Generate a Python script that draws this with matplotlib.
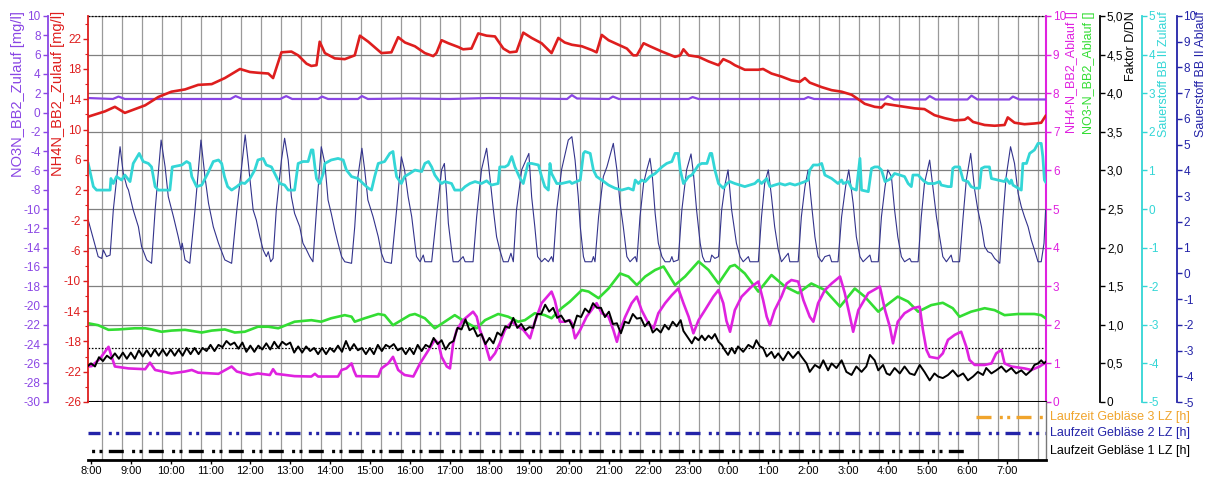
import numpy as np
import matplotlib
matplotlib.use("Agg")
import matplotlib.pyplot as plt
from matplotlib.ticker import MultipleLocator, FixedLocator, FuncFormatter, NullFormatter

plt.rcParams['font.family'] = ['Liberation Sans', 'DejaVu Sans']
plt.rcParams['lines.scale_dashes'] = False

# ---------------- data (time = hours after 8:00) ----------------
hour_labels = ['8:00', '9:00', '10:00', '11:00', '12:00', '13:00', '14:00', '15:00',
               '16:00', '17:00', '18:00', '19:00', '20:00', '21:00', '22:00', '23:00',
               '0:00', '1:00', '2:00', '3:00', '4:00', '5:00', '6:00', '7:00']

# NH4N_BB2_Zulauf [mg/l]
red_t = [-0.07, 0.35, 0.60, 0.85, 1.36, 1.69, 2.02, 2.36, 2.69, 3.03,
         3.36, 3.74, 3.99, 4.19, 4.45, 4.57, 4.78, 5.03, 5.20, 5.41,
         5.53, 5.66, 5.74, 5.87, 6.12, 6.37, 6.62, 6.75, 6.96, 7.29,
         7.54, 7.71, 7.88, 8.13, 8.38, 8.59, 8.67, 8.80, 8.97, 9.22,
         9.34, 9.55, 9.72, 9.93, 10.14, 10.35, 10.51, 10.68, 10.85, 11.06,
         11.31, 11.56, 11.73, 11.89, 12.07, 12.32, 12.57, 12.69, 12.82, 12.99,
         13.24, 13.45, 13.61, 13.70, 13.87, 14.03, 14.33, 14.66, 14.79, 14.87,
         15.00, 15.25, 15.50, 15.75, 15.87, 16.04, 16.16, 16.41, 16.75, 16.87,
         17.08, 17.33, 17.58, 17.79, 17.92, 18.04, 18.34, 18.59, 18.84, 19.09,
         19.26, 19.42, 19.67, 19.84, 19.93, 20.17, 20.42, 20.67, 20.92, 21.17,
         21.43, 21.68, 21.93, 22.01, 22.14, 22.43, 22.68, 22.93, 23.01, 23.18,
         23.43, 23.68, 23.85, 23.96]
red_v = [11.7, 12.4, 13.0, 12.2, 13.2, 14.3, 15.0, 15.3, 15.9, 16.0,
         16.8, 18.0, 17.6, 17.5, 17.4, 16.8, 20.2, 20.3, 19.8, 18.7,
         18.4, 18.5, 21.6, 20.1, 19.4, 19.3, 19.8, 22.4, 21.6, 20.1,
         20.2, 22.2, 21.5, 21.0, 20.1, 19.7, 20.1, 21.8, 21.4, 20.9,
         20.6, 20.7, 22.7, 22.4, 22.3, 20.7, 20.2, 20.3, 22.8, 22.1,
         21.4, 20.1, 22.1, 21.5, 21.2, 21.0, 20.5, 20.2, 22.5, 21.8,
         21.2, 20.7, 19.8, 19.8, 21.4, 21.0, 20.3, 19.6, 19.8, 20.6,
         19.8, 19.6, 19.0, 18.5, 19.3, 18.9, 18.5, 17.9, 17.9, 18.0,
         17.4, 17.0, 16.5, 16.3, 16.8, 16.2, 15.6, 15.2, 15.0, 14.6,
         14.0, 13.4, 13.0, 12.9, 13.4, 13.2, 13.0, 12.8, 12.7, 11.9,
         11.5, 11.2, 11.3, 11.6, 11.0, 10.6, 10.5, 10.6, 11.6, 10.9,
         10.7, 10.8, 10.9, 11.8]

# NO3N_BB2_Zulauf [mg/l]
purple_t = [-0.07, 0.55, 0.69, 0.85, 2.0, 3.5, 3.63, 3.8, 4.75, 4.9,
            5.05, 5.7, 5.8, 5.95, 6.7, 6.8, 6.95, 8.0, 9.0, 10.0,
            11.0, 11.95, 12.07, 12.2, 13.0, 13.1, 13.25, 15.0, 15.1, 15.25,
            17.9, 18.0, 18.15, 19.9, 20.0, 20.15, 20.95, 21.05, 21.2, 22.0,
            22.1, 22.25, 23.05, 23.14, 23.3, 23.96]
purple_v = [1.5, 1.4, 1.65, 1.4, 1.4, 1.4, 1.7, 1.4, 1.4, 1.7,
            1.4, 1.4, 1.65, 1.4, 1.4, 1.7, 1.4, 1.45, 1.4, 1.5,
            1.45, 1.4, 1.8, 1.45, 1.4, 1.65, 1.4, 1.4, 1.6, 1.4,
            1.4, 1.6, 1.4, 1.35, 1.7, 1.35, 1.35, 1.7, 1.35, 1.35,
            1.75, 1.35, 1.35, 1.65, 1.35, 1.35]

# Sauerstoff BB II Zulauf
cyan_t = [-0.07, 0.06, 0.14, 0.48, 0.50, 0.56, 0.64, 0.77, 0.85, 0.98,
          1.06, 1.21, 1.31, 1.44, 1.52, 1.61, 1.69, 1.98, 2.04, 2.28,
          2.40, 2.48, 2.53, 2.65, 2.78, 2.93, 3.07, 3.20, 3.28, 3.35,
          3.43, 3.53, 3.66, 3.78,
          3.86, 3.99, 4.11, 4.19, 4.32, 4.40, 4.53, 4.65, 4.74, 4.86,
          4.95, 5.11, 5.20, 5.32, 5.45, 5.53, 5.57, 5.62, 5.66, 5.74,
          5.83, 5.87, 6.03, 6.20, 6.33, 6.41, 6.54, 6.70, 6.83, 6.96,
          7.04, 7.12, 7.21, 7.37, 7.50, 7.58, 7.62, 7.67, 7.79, 7.87, 8.00,
          8.13, 8.30, 8.38, 8.47, 8.55, 8.63, 8.72, 8.80, 8.88, 9.05,
          9.13, 9.30, 9.39, 9.51, 9.64, 9.80, 9.93, 10.05, 10.22, 10.26,
          10.39, 10.47, 10.56, 10.64, 10.77, 10.85, 10.97, 11.06, 11.23, 11.31,
          11.39, 11.48, 11.52, 11.56, 11.69, 11.81, 12.02,
          12.07, 12.28, 12.36, 12.40, 12.53, 12.61, 12.69, 12.82, 12.99, 13.15,
          13.32, 13.49, 13.61, 13.66, 13.74, 13.82, 13.91, 14.03, 14.16, 14.33,
          14.45, 14.58, 14.66, 14.74, 14.79, 14.87, 15.00, 15.08, 15.25, 15.33,
          15.46, 15.54, 15.58, 15.66, 15.75, 15.87, 15.96, 16.04,
          16.16, 16.41, 16.66, 16.75, 16.83, 16.96, 17.04, 17.16, 17.29, 17.42,
          17.54, 17.67, 17.79, 17.92, 18.00, 18.04, 18.13, 18.25, 18.34, 18.42,
          18.59, 18.75, 18.84, 18.88, 19.01, 19.09, 19.21, 19.30, 19.34, 19.51,
          19.59, 19.67, 19.76, 19.84, 19.93,
          20.05, 20.17, 20.30, 20.42, 20.51, 20.59, 20.63, 20.76, 20.84, 20.92,
          21.01, 21.17, 21.30, 21.34, 21.51, 21.59, 21.63, 21.68, 21.80, 21.89,
          22.01, 22.09, 22.18, 22.30, 22.35, 22.43, 22.55, 22.60, 22.76, 22.93,
          22.97, 23.06, 23.10, 23.14, 23.27, 23.35, 23.39, 23.48, 23.56, 23.68,
          23.77, 23.85, 23.89, 23.93, 23.96]
cyan_v = [1.18, 0.58, 0.49, 0.49, 0.79, 0.66, 0.84, 0.75, 0.88, 0.71,
          1.18, 1.44, 1.23, 1.18, 1.09, 0.58, 0.49, 0.49, 1.09, 1.14,
          1.23, 1.18, 0.84, 0.58, 0.62, 0.92, 1.23, 1.27, 1.18, 0.84,
          0.58, 0.49, 0.58, 0.68,
          0.66, 0.79, 1.01, 1.27, 1.31, 1.14, 1.09, 0.84, 0.66, 0.62,
          0.49, 0.49, 1.18, 1.23, 1.23, 1.53, 1.53, 1.09, 0.79, 0.66,
          0.92, 1.18, 1.27, 1.31, 1.27, 1.01, 0.84, 0.79, 0.66, 0.54,
          0.49, 0.84, 1.18, 1.23, 1.44, 1.49, 1.18, 0.84, 0.66, 0.84, 0.92,
          1.01, 0.97, 1.18, 1.23, 1.09, 0.88, 0.75, 0.66, 0.71, 0.66,
          0.49, 0.49, 0.58, 0.66, 0.71, 0.66, 0.73, 0.62, 0.66, 1.09,
          1.09, 1.14, 1.36, 1.09, 0.79, 0.66, 1.18, 1.18, 1.14, 0.84,
          0.58, 0.49, 1.18, 0.92, 0.66, 0.66, 0.71,
          0.66, 0.75, 1.44, 1.49, 1.44, 1.01, 0.84, 0.75, 0.62, 0.54,
          0.49, 0.54, 0.49, 0.75, 0.66, 0.75, 0.71, 0.84, 0.92, 1.09,
          1.18, 1.23, 1.44, 1.44, 1.01, 0.66, 0.84, 0.88, 1.14, 1.18,
          1.18, 1.44, 1.44, 1.01, 0.66, 0.54, 0.66, 0.71,
          0.66, 0.58, 0.66, 0.75, 0.66, 0.79, 0.58, 0.62, 0.66, 0.62,
          0.66, 0.62, 0.66, 0.71, 0.75, 1.01, 1.14, 1.14, 1.18, 0.88,
          0.79, 0.66, 0.75, 0.66, 0.71, 0.54, 0.49, 1.31, 0.49, 0.45,
          1.05, 1.09, 1.09, 1.01, 0.71,
          0.77, 0.92, 0.88, 0.84, 0.66, 0.58, 0.88, 0.88, 0.79, 0.71,
          0.66, 0.66, 0.71, 0.62, 0.58, 0.58, 1.05, 1.09, 1.09, 0.75,
          0.71, 0.58, 0.54, 0.54, 1.05, 1.09, 1.09, 0.79, 0.75, 0.71,
          0.79, 0.66, 0.75, 0.62, 0.54, 0.49, 1.18, 1.18, 1.44, 1.53,
          1.70, 1.70, 1.36, 0.75, 0.70]

# Sauerstoff BB II Ablauf
navy_t = [-0.07, 0.18, 0.27, 0.31, 0.39, 0.48, 0.56, 0.73, 0.81, 0.90,
          0.94, 1.06, 1.19, 1.27, 1.40, 1.52, 1.61, 1.76, 1.86, 1.94,
          2.07, 2.19, 2.26, 2.29, 2.36, 2.48, 2.61, 2.76, 2.86, 2.95,
          3.07, 3.20, 3.36, 3.53, 3.66, 3.87,
          3.94, 4.07, 4.15, 4.24, 4.32, 4.40, 4.45, 4.51, 4.57, 4.65,
          4.78, 4.86, 4.95, 5.03, 5.11, 5.24, 5.32, 5.41, 5.49, 5.57,
          5.66, 5.78, 5.87, 5.95, 6.03, 6.12, 6.20, 6.29, 6.37, 6.54,
          6.62, 6.70, 6.80, 6.87, 6.95, 7.08, 7.21, 7.29, 7.37, 7.54,
          7.67, 7.79, 7.87,
          7.96, 8.05, 8.13, 8.17, 8.26, 8.34, 8.38, 8.55, 8.67, 8.80,
          8.87, 8.93, 8.97, 9.05, 9.09, 9.22, 9.34, 9.39, 9.59, 9.68,
          9.80, 9.93, 10.01, 10.10, 10.18, 10.26, 10.35, 10.47, 10.54, 10.60,
          10.68, 10.81, 10.99, 11.06, 11.14, 11.21, 11.31, 11.39, 11.48, 11.56,
          11.60, 11.69, 11.81, 11.98,
          12.07, 12.15, 12.23, 12.28, 12.36, 12.40, 12.57, 12.61, 12.65, 12.74,
          12.86, 12.95, 13.11, 13.20, 13.28, 13.36, 13.45, 13.53, 13.61, 13.66,
          13.70, 13.78, 13.87, 13.95, 14.03, 14.09, 14.16, 14.24, 14.33, 14.41,
          14.53, 14.58, 14.62, 14.74, 14.83, 14.95, 15.06, 15.12, 15.20, 15.29,
          15.35, 15.41, 15.54, 15.58, 15.66, 15.75, 15.83, 15.92,
          15.99, 16.08, 16.20, 16.29, 16.37, 16.50, 16.54, 16.75, 16.83, 16.91,
          17.00, 17.08, 17.16, 17.25, 17.33, 17.50, 17.54, 17.75, 17.83, 17.92,
          18.00, 18.10, 18.17, 18.25, 18.34, 18.42, 18.54, 18.59, 18.75, 18.84,
          18.94, 19.02, 19.13, 19.21, 19.30, 19.38, 19.55, 19.59, 19.76, 19.84,
          19.93,
          20.00, 20.09, 20.17, 20.25, 20.34, 20.42, 20.55, 20.59, 20.76, 20.84,
          20.92, 21.05, 21.13, 21.22, 21.30, 21.38, 21.47, 21.59, 21.63, 21.80,
          21.89, 21.97, 22.08, 22.18, 22.26, 22.35, 22.43, 22.51, 22.60, 22.68,
          22.81, 22.89, 22.97, 23.08, 23.18, 23.27, 23.35, 23.43, 23.52, 23.60,
          23.68, 23.77, 23.85, 23.92, 23.96]
navy_v = [2.07, 0.65, 0.58, 0.91, 0.65, 0.71, 2.46, 4.92, 3.89, 3.37,
          3.24, 2.46, 1.81, 1.04, 0.52, 0.39, 2.46, 5.18, 4.14, 2.98,
          2.20, 1.42, 0.91, 1.17, 0.52, 0.39, 2.46, 5.18, 3.76, 2.72,
          1.81, 1.17, 0.52, 0.39, 2.46, 5.38,
          4.40, 2.46, 2.07, 1.42, 0.91, 0.65, 0.84, 0.45, 0.58, 2.46,
          4.40, 5.25, 4.40, 2.98, 2.33, 1.81, 1.17, 0.91, 0.65, 0.45,
          2.46, 4.92, 4.27, 2.85, 2.33, 1.68, 1.17, 0.65, 0.45, 0.39,
          1.81, 3.76, 4.86, 4.02, 2.85, 2.20, 1.42, 0.78, 0.45, 0.39,
          2.46, 4.53, 4.02,
          2.98, 2.20, 1.17, 0.65, 0.45, 0.71, 0.45, 0.45, 2.20, 4.02,
          4.27, 2.98, 1.94, 0.91, 0.45, 0.45, 0.65, 0.45, 0.45, 2.20,
          4.02, 4.86, 3.76, 2.46, 1.42, 0.91, 0.45, 0.45, 0.78, 0.45,
          2.46, 4.02, 4.66, 2.98, 1.81, 0.65, 0.45, 0.58, 0.45, 0.65,
          0.45, 2.46, 4.02, 5.18,
          5.31, 4.40, 2.98, 1.81, 0.65, 0.45, 0.45, 0.65, 0.45, 2.20,
          3.76, 4.14, 5.05, 4.02, 2.72, 1.81, 0.65, 0.45, 0.58, 0.65,
          0.45, 2.20, 3.50, 4.02, 4.47, 3.76, 2.33, 1.17, 0.65, 0.45,
          0.45, 0.65, 0.45, 0.52, 2.46, 4.02, 4.64, 3.89, 2.46, 1.17,
          0.65, 0.45, 0.45, 0.71, 0.58, 0.65, 2.46, 3.50,
          4.02, 2.46, 1.17, 0.65, 0.45, 0.65, 0.45, 0.45, 2.20, 3.50,
          4.02, 2.98, 1.81, 0.91, 0.45, 0.78, 0.45, 0.45, 2.20, 3.37,
          4.02, 2.46, 1.42, 0.65, 0.45, 0.65, 0.71, 0.45, 0.45, 2.20,
          3.37, 4.02, 2.72, 1.42, 0.65, 0.45, 0.71, 0.45, 0.45, 2.20,
          3.37,
          4.02, 3.76, 2.46, 1.42, 0.65, 0.45, 0.58, 0.45, 0.45, 2.20,
          3.50, 4.40, 3.37, 2.20, 1.42, 0.65, 0.45, 0.71, 0.45, 0.45,
          2.20, 3.63, 4.66, 3.24, 2.46, 1.81, 1.04, 0.84, 0.78, 0.58,
          0.39, 2.20, 3.76, 4.92, 4.27, 3.11, 2.59, 2.20, 1.81, 1.30,
          0.91, 0.45, 0.45, 1.17, 2.46]

# NO3-N_BB2_Ablauf []
green_t = [-0.07, 0.18, 0.44, 0.69, 1.10, 1.36, 1.52, 1.77, 2.02, 2.36,
           2.78, 3.03, 3.36, 3.61, 3.86, 4.19, 4.45, 4.70, 5.11, 5.53,
           5.78, 6.03, 6.37, 6.54, 6.62, 6.87, 7.21, 7.37, 7.58, 7.79,
           8.00, 8.13, 8.38, 8.63, 8.88, 9.13, 9.39, 9.68, 9.89, 10.22,
           10.47, 10.72, 10.89, 11.14, 11.39, 11.56, 11.81, 12.02, 12.15, 12.32,
           12.49, 12.74, 12.99, 13.28, 13.49, 13.70, 13.91, 14.16, 14.37, 14.66,
           14.91, 15.25, 15.50, 15.75, 15.92, 16.04, 16.16, 16.41, 16.75, 17.08,
           17.42, 17.75, 18.08, 18.42, 18.80, 19.17, 19.42, 19.76, 19.92, 20.25,
           20.51, 20.76, 21.09, 21.38, 21.63, 21.80, 22.09, 22.43, 22.68, 22.93,
           23.27, 23.68, 23.85, 23.96]
green_v = [2.04, 1.99, 1.87, 1.88, 1.91, 1.91, 1.88, 1.82, 1.85, 1.87,
           1.80, 1.85, 1.88, 1.80, 1.82, 1.95, 1.95, 1.91, 2.08, 2.12,
           2.08, 2.17, 2.25, 2.21, 2.08, 2.17, 2.28, 2.25, 1.99, 2.12,
           2.25, 2.28, 2.17, 1.91, 2.08, 2.25, 2.08, 1.91, 2.12, 2.28,
           2.21, 2.08, 2.12, 2.30, 2.25, 2.17, 2.43, 2.60, 2.73, 2.90,
           2.86, 2.69, 2.94, 3.33, 3.25, 3.03, 3.25, 3.42, 3.51, 3.03,
           3.25, 3.64, 3.42, 3.07, 3.33, 3.51, 3.55, 3.33, 2.86, 3.29,
           2.99, 2.82, 3.07, 2.90, 2.47, 2.94, 2.73, 2.34, 2.47, 2.73,
           2.60, 2.34, 2.51, 2.57, 2.43, 2.21, 2.34, 2.43, 2.38, 2.25,
           2.28, 2.28, 2.25, 2.17]

# NH4-N_BB2_Ablauf []
mag_t = [-0.07, 0.02, 0.23, 0.44, 0.52, 0.60, 0.94, 1.36, 1.48, 1.61,
         2.02, 2.36, 2.53, 2.69, 3.20, 3.53, 3.66, 3.99, 4.19, 4.49,
         4.57, 4.65, 5.11, 5.53, 5.62, 5.70, 6.20, 6.29, 6.41, 6.54,
         6.60, 6.66, 7.21, 7.29, 7.46, 7.58, 7.71, 7.87, 8.09, 8.26,
         8.42, 8.63, 8.72, 8.80, 8.93, 9.01, 9.09, 9.18, 9.34, 9.59,
         9.68, 9.76, 9.89, 10.01, 10.14, 10.26, 10.39, 10.56, 10.72, 10.85,
         11.02, 11.14, 11.31, 11.56, 11.64, 11.77, 11.89, 12.02, 12.07, 12.15,
         12.28, 12.44, 12.69, 12.82, 12.99, 13.11, 13.20, 13.28, 13.41, 13.57,
         13.70, 13.82, 13.99, 14.12, 14.24, 14.41, 14.58, 14.74, 14.87, 15.00,
         15.12, 15.25, 15.41, 15.62, 15.75, 15.87, 15.95, 16.04, 16.16, 16.33,
         16.58, 16.75, 16.87, 16.96, 17.04, 17.16, 17.33, 17.46, 17.58, 17.75,
         17.88, 18.04, 18.13, 18.25, 18.42, 18.59, 18.80, 18.92, 19.05, 19.13,
         19.26, 19.51, 19.80, 19.93, 20.05, 20.13, 20.25, 20.42, 20.63, 20.80,
         20.88, 20.97, 21.05, 21.26, 21.38, 21.51, 21.68, 21.84, 21.97, 22.05,
         22.18, 22.43, 22.60, 22.72, 22.85, 22.93, 23.10, 23.43, 23.60, 23.81,
         23.93]
mag_v = [0.92, 0.93, 1.13, 1.43, 1.17, 0.92, 0.87, 0.85, 1.02, 0.83,
         0.74, 0.79, 0.83, 0.76, 0.73, 0.92, 0.79, 0.70, 0.74, 0.70,
         0.85, 0.73, 0.67, 0.66, 0.73, 0.66, 0.66, 0.83, 0.87, 1.00,
         0.81, 0.67, 0.66, 0.87, 1.00, 1.17, 0.83, 0.70, 0.66, 1.00,
         1.26, 1.61, 1.52, 1.17, 0.92, 0.87, 1.52, 1.87, 2.12, 2.34,
         2.21, 1.87, 1.52, 1.09, 1.26, 1.52, 1.87, 2.08, 1.95, 1.87,
         1.65, 2.08, 2.56, 2.86, 2.64, 2.08, 2.08, 2.12, 2.04, 1.65,
         1.87, 2.21, 2.56, 2.30, 2.21, 1.87, 1.56, 1.87, 2.21, 2.56,
         2.73, 2.38, 2.04, 1.91, 2.30, 2.56, 2.77, 2.94, 2.56, 2.21,
         1.78, 2.12, 2.38, 2.73, 2.90, 2.56, 2.10, 1.82, 2.38, 2.73,
         2.99, 3.12, 2.64, 2.21, 1.99, 2.38, 2.73, 3.07, 3.16, 3.12,
         2.64, 2.21, 2.08, 2.56, 2.90, 3.07, 3.25, 2.82, 2.21, 1.82,
         2.38, 2.82, 2.99, 2.38, 1.95, 1.52, 2.08, 2.30, 2.43, 2.47,
         1.87, 1.35, 1.17, 1.13, 1.26, 1.61, 1.74, 1.82, 1.43, 1.09,
         0.96, 0.96, 1.00, 1.26, 1.35, 1.00, 0.92, 0.87, 0.83, 0.92,
         1.00]

# Faktor D/DN : fast zig-zag part (every 0.1 h from 8:00) and slower part
black_fast_t = np.round(np.arange(0.0, 14.85, 0.1), 2)
black_fast_v = [0.50, 0.46, 0.58, 0.53, 0.60, 0.56, 0.63, 0.56, 0.64, 0.56,
                0.64, 0.56, 0.67, 0.59, 0.67, 0.59, 0.68, 0.60, 0.68, 0.60,
                0.68, 0.60, 0.68, 0.60, 0.70, 0.62, 0.70, 0.62, 0.70, 0.66,
                0.74, 0.66, 0.74, 0.71, 0.79, 0.74, 0.77, 0.69, 0.77, 0.65,
                0.73, 0.65, 0.73, 0.68, 0.76, 0.68, 0.78, 0.70, 0.78, 0.74,
                0.77, 0.64, 0.72, 0.64, 0.72, 0.66, 0.70, 0.62, 0.70, 0.62,
                0.70, 0.65, 0.73, 0.65, 0.79, 0.67, 0.75, 0.67, 0.70, 0.62,
                0.70, 0.62, 0.74, 0.66, 0.74, 0.71, 0.75, 0.67, 0.70, 0.62,
                0.70, 0.62, 0.74, 0.66, 0.74, 0.71, 0.83, 0.75, 0.80, 0.68,
                0.76, 0.79, 0.96, 0.94, 1.07, 0.93, 0.96, 0.85, 0.88, 0.75,
                0.83, 0.76, 0.90, 0.86, 0.98, 0.96, 1.09, 0.96, 1.01, 0.93,
                0.97, 0.96, 1.14, 1.14, 1.26, 1.17, 1.22, 1.09, 1.12, 1.04,
                1.06, 0.96, 1.12, 1.10, 1.21, 1.16, 1.28, 1.22, 1.22, 1.10,
                1.17, 1.01, 1.02, 0.89, 1.04, 1.02, 1.14, 1.08, 1.09, 0.98,
                1.04, 0.90, 0.95, 0.90, 1.00, 0.94, 1.04, 0.98, 1.06]
black_slow_t = [14.87, 14.95, 15.03, 15.08, 15.16, 15.25, 15.33, 15.41, 15.50, 15.58,
                15.66, 15.75, 15.83, 15.91, 15.99, 16.08, 16.16, 16.24, 16.37, 16.50,
                16.62, 16.70, 16.79, 16.87, 16.96, 17.08, 17.16, 17.25, 17.37, 17.50,
                17.62, 17.75, 17.83, 17.96, 18.04, 18.17, 18.29, 18.38, 18.50, 18.59,
                18.71, 18.84, 18.96, 19.09, 19.21, 19.34, 19.46, 19.55, 19.67, 19.76,
                19.88, 19.97, 20.05, 20.17, 20.30, 20.42, 20.55, 20.67, 20.80, 20.92,
                21.05, 21.17, 21.26, 21.38, 21.51, 21.63, 21.76, 21.89, 22.01, 22.14,
                22.26, 22.39, 22.47, 22.60, 22.72, 22.85, 22.97, 23.10, 23.22, 23.35,
                23.47, 23.60, 23.68, 23.77, 23.85, 23.92, 23.96]
black_slow_v = [0.92, 0.86, 0.80, 0.76, 0.84, 0.80, 0.86, 0.80, 0.86, 0.82,
                0.88, 0.78, 0.74, 0.67, 0.61, 0.70, 0.63, 0.72, 0.65, 0.74,
                0.70, 0.80, 0.72, 0.70, 0.59, 0.65, 0.57, 0.63, 0.54, 0.65,
                0.57, 0.65, 0.59, 0.50, 0.39, 0.48, 0.44, 0.54, 0.41, 0.50,
                0.44, 0.54, 0.39, 0.35, 0.46, 0.39, 0.46, 0.61, 0.54, 0.41,
                0.48, 0.37, 0.35, 0.44, 0.37, 0.46, 0.37, 0.35, 0.48, 0.39,
                0.28, 0.37, 0.33, 0.31, 0.35, 0.41, 0.33, 0.37, 0.28, 0.33,
                0.39, 0.35, 0.44, 0.37, 0.41, 0.46, 0.39, 0.44, 0.37, 0.41,
                0.35, 0.41, 0.48, 0.50, 0.54, 0.50, 0.52]

# reference (dotted) levels on the NH4-N_BB2_Ablauf scale
limit_levels = [10.0, 1.4]

# blower running-time bars: start / end (hours after 8:00)
gebl_names = ['Laufzeit Gebläse 3 LZ [h]', 'Laufzeit Gebläse 2 LZ [h]', 'Laufzeit Gebläse 1 LZ [h]']
gebl_start = [22.22, -0.075, -0.075]
gebl_end = [23.97, 23.97, 22.10]

# ---------------- layout ----------------
W_PX, H_PX, DPI = 1213, 482, 100
fig = plt.figure(figsize=(W_PX / DPI, H_PX / DPI), dpi=DPI)
fig.patch.set_facecolor('white')


def rect(x0, y0, x1, y1):
    return [x0 / W_PX, 1 - y1 / H_PX, (x1 - x0) / W_PX, (y1 - y0) / H_PX]


def pt(px):
    return px * 72.0 / DPI


X0, X1 = -0.075, 23.97
grid_t = np.arange(0.27, 23.9, 0.5)

C_RED = '#de1e1e'
C_PURP = '#8a46e4'
C_MAG = '#df22df'
C_GREEN = '#33dd33'
C_CYAN = '#33d6d6'
C_NAVY = '#33338c'
C_BLUE = '#2323a8'
C_ORANGE = '#f0a42c'
C_GRID = '#9a9a9a'

ax = fig.add_axes(rect(88, 16, 1046, 402))
axl = fig.add_axes(rect(88, 402, 1046, 460))

ax_blue = ax.twinx()
ax_cyan = ax.twinx()
ax_purple = ax.twinx()
ax_red = ax.twinx()
ax_black = ax.twinx()


def style(a, side, color, lo, hi, major, minor=None, fmt=None, offset_px=0, lw=1.3):
    for s in ('top', 'bottom', 'left', 'right'):
        a.spines[s].set_visible(False)
    a.spines[side].set_visible(True)
    a.spines[side].set_color(color)
    a.spines[side].set_linewidth(lw)
    if offset_px:
        a.spines[side].set_position(('outward', pt(offset_px)))
    if side == 'left':
        a.yaxis.tick_left()
    else:
        a.yaxis.tick_right()
    a.set_ylim(lo, hi)
    a.yaxis.set_major_locator(FixedLocator(major))
    if minor is not None:
        a.yaxis.set_minor_locator(FixedLocator(minor))
    if fmt is not None:
        a.yaxis.set_major_formatter(FuncFormatter(fmt))
    a.tick_params(axis='y', which='major', colors=color, labelsize=8.5,
                  direction='out', length=3.5, width=1, pad=1.5)
    a.tick_params(axis='y', which='minor', colors=color, direction='out', length=2, width=0.8)


int_fmt = lambda v, p: f"{int(round(v))}"
comma_fmt = lambda v, p: '0' if abs(v) < 1e-9 else f"{v:.1f}".replace('.', ',')

style(ax_red, 'left', C_RED, -26, 25, list(range(-26, 23, 4)), list(range(-24, 25, 4)), int_fmt)
style(ax_purple, 'left', C_PURP, -30, 10, list(range(-30, 11, 2)), None, int_fmt, offset_px=40.5)
style(ax_black, 'right', 'black', 0, 5, list(np.arange(0, 5.01, 0.5)), None, comma_fmt, offset_px=54)
style(ax_cyan, 'right', C_CYAN, -5, 5, list(range(-5, 6)), None, int_fmt, offset_px=95.5)
style(ax_blue, 'right', C_BLUE, -5, 10, list(range(-5, 11)), None, int_fmt, offset_px=130.5)

# host axis: NH4-N_BB2_Ablauf / NO3-N_BB2_Ablauf scale (0..10), carries the grid
ax.set_xlim(X0, X1)
ax.set_ylim(0, 10)
for s in ('top', 'left'):
    ax.spines[s].set_visible(False)
ax.spines['bottom'].set_color('black')
ax.spines['bottom'].set_linewidth(1.5)
ax.spines['right'].set_color(C_MAG)
ax.spines['right'].set_linewidth(1.5)
ax.yaxis.tick_right()
ax.yaxis.set_major_locator(FixedLocator(list(range(0, 11))))
ax.yaxis.set_major_formatter(FuncFormatter(int_fmt))
ax.tick_params(axis='y', colors=C_MAG, labelsize=8.5, direction='out', length=3.5, width=1, pad=1.5)
ax.xaxis.set_major_locator(FixedLocator([]))
ax.xaxis.set_minor_locator(FixedLocator(grid_t))
ax.xaxis.set_minor_formatter(NullFormatter())
ax.tick_params(axis='x', which='both', length=0, labelbottom=False)
ax.grid(axis='y', which='major', color='#808080', lw=0.9)
ax.grid(axis='x', which='minor', color=C_GRID, lw=0.9)
ax.set_axisbelow(True)

for lv in limit_levels:
    ax.axhline(lv, color='black', lw=0.9, ls=(0, (1.2, 1.2)), clip_on=False, zorder=1.5)

# ---------------- series ----------------
ax.plot(green_t, green_v, color=C_GREEN, lw=1.9, zorder=3)
ax.plot(mag_t, mag_v, color=C_MAG, lw=1.9, zorder=4)
ax_blue.plot(navy_t, navy_v, color=C_NAVY, lw=0.8)
ax_cyan.plot(cyan_t, cyan_v, color=C_CYAN, lw=2.0)
ax_purple.plot(purple_t, purple_v, color=C_PURP, lw=1.6)
ax_red.plot(red_t, red_v, color=C_RED, lw=1.9)
black_t = [-0.07] + list(black_fast_t) + black_slow_t
black_v = [0.47] + black_fast_v + black_slow_v
ax_black.plot(black_t, black_v, color='black', lw=1.4)

# ---------------- lower panel (blowers) ----------------
axl.set_xlim(X0, X1)
axl.set_ylim(0, 1)
for s in ('top', 'left'):
    axl.spines[s].set_visible(False)
axl.spines['right'].set_color('#777777')
axl.spines['right'].set_linewidth(1.0)
axl.spines['bottom'].set_color('black')
axl.spines['bottom'].set_linewidth(2.0)
axl.set_yticks([])
axl.xaxis.set_major_locator(FixedLocator(list(range(24))))
axl.set_xticklabels(hour_labels)
axl.xaxis.set_minor_locator(FixedLocator(grid_t))
axl.tick_params(axis='x', which='major', labelsize=8, length=3, width=1, pad=1.5, direction='out')
axl.tick_params(axis='x', which='minor', length=0)
axl.grid(axis='x', which='minor', color=C_GRID, lw=0.9)
axl.set_axisbelow(True)

lanes = [0.74, 0.466, 0.155]
gebl_colors = [C_ORANGE, C_BLUE, 'black']
dash_pat = (pt(15), pt(8.3), pt(3), pt(4.4), pt(3), pt(6.3))
dash_off = [0.0, pt(3), pt(19.7)]
for name, s, e, lane, col, off in zip(gebl_names, gebl_start, gebl_end, lanes, gebl_colors, dash_off):
    axl.plot([s, e], [lane, lane], color=col, lw=2.4, ls=(off, dash_pat),
             dash_capstyle='butt', solid_capstyle='butt')
    fig.text(1050 / W_PX, 1 - (402 + (1 - lane) * 58) / H_PX, name, color=col,
             fontsize=9, ha='left', va='center')

# ---------------- axis titles ----------------
def vlabel(xpx, text, color, size):
    fig.text(xpx / W_PX, 1 - 11 / H_PX, text, rotation=90, color=color,
             fontsize=size, ha='center', va='top')

vlabel(18, 'NO3N_BB2_Zulauf [mg/l]', C_PURP, 10.5)
vlabel(58, 'NH4N_BB2_Zulauf [mg/l]', C_RED, 10.5)
vlabel(1072, 'NH4-N_BB2_Ablauf []', C_MAG, 9)
vlabel(1089, 'NO3-N_BB2_Ablauf []', C_GREEN, 9)
vlabel(1131, 'Faktor D/DN', 'black', 9)
vlabel(1164, 'Sauerstoff BB II Zulauf', C_CYAN, 9)
vlabel(1201, 'Sauerstoff BB II Ablauf', C_BLUE, 9)

fig.savefig('out.png', dpi=DPI)
